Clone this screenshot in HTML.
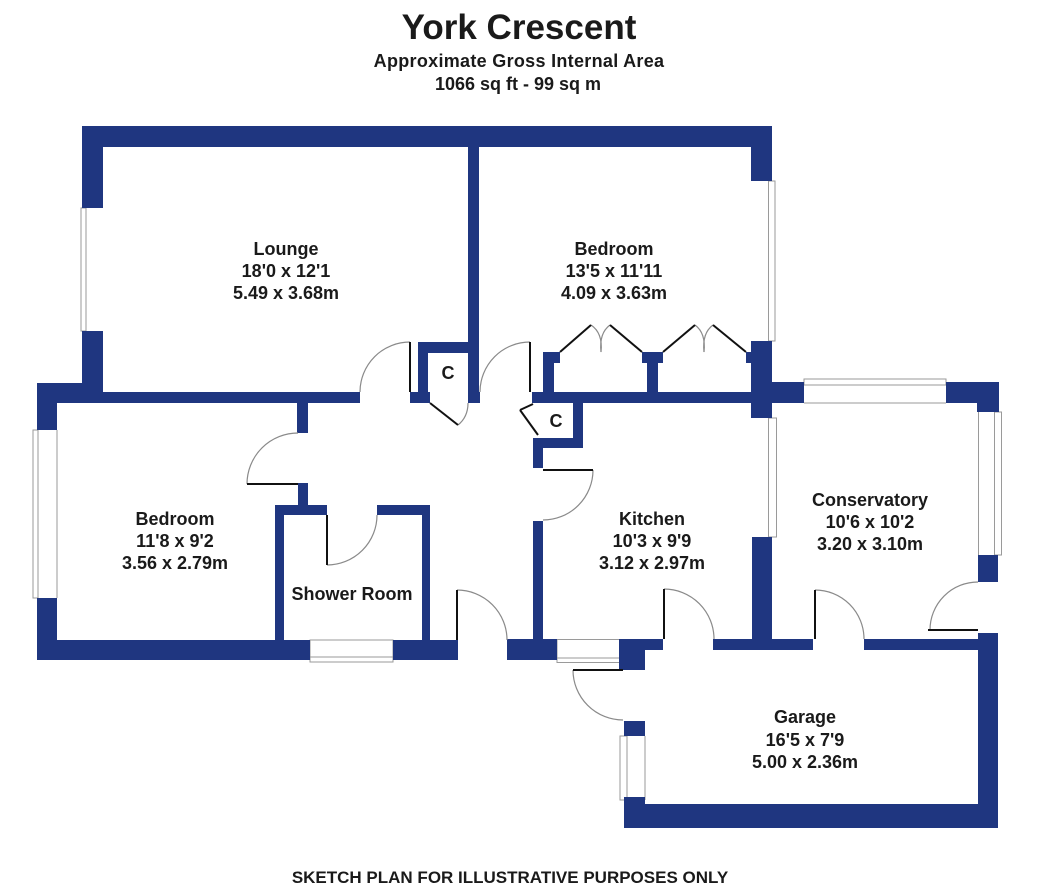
<!DOCTYPE html>
<html>
<head>
<meta charset="utf-8">
<style>
html,body{margin:0;padding:0;background:#fff;}
body{width:1057px;height:892px;overflow:hidden;}
svg{display:block;}
text{font-family:"Liberation Sans",Arial,sans-serif;font-weight:bold;fill:#1a1a1a;}
</style>
</head>
<body>
<svg width="1057" height="892" viewBox="0 0 1057 892" xmlns="http://www.w3.org/2000/svg">
<rect x="0" y="0" width="1057" height="892" fill="#fff"/>

<!-- Title -->
<text x="519" y="39" font-size="35" text-anchor="middle">York Crescent</text>
<text x="519" y="67" font-size="18" text-anchor="middle" letter-spacing="0.3">Approximate Gross Internal Area</text>
<text x="518" y="90" font-size="18" text-anchor="middle">1066 sq ft - 99 sq m</text>

<!-- Windows -->
<g fill="none" stroke="#9a9a9a" stroke-width="1">
  <rect x="81" y="208" width="5" height="123"/>
  <rect x="768.5" y="181" width="6.5" height="160"/>
  <rect x="768.5" y="418" width="8" height="119"/>
  <rect x="804" y="379" width="142" height="6"/>
  <line x1="804" y1="403" x2="946" y2="403"/>
  <line x1="978.5" y1="412" x2="978.5" y2="555"/>
  <rect x="994.5" y="412" width="7" height="143"/>
  <rect x="33" y="430" width="5" height="168"/>
  <line x1="57" y1="430" x2="57" y2="598"/>
  <rect x="310" y="640" width="83" height="22"/>
  <line x1="310" y1="657" x2="393" y2="657"/>
  <rect x="557" y="639.5" width="63" height="23"/>
  <line x1="557" y1="658" x2="620" y2="658"/>
  <rect x="620" y="736" width="7" height="64"/>
  <line x1="645" y1="736" x2="645" y2="800"/>
</g>

<!-- Walls -->
<g fill="#1f3680">
  <rect x="82" y="126" width="690" height="21"/>
  <rect x="751" y="126" width="21" height="55"/>
  <rect x="82" y="126" width="21" height="82"/>
  <rect x="82" y="331" width="21" height="72"/>
  <rect x="37" y="383" width="66" height="20"/>
  <rect x="37" y="392" width="323" height="11"/>
  <rect x="297" y="403" width="11" height="30"/>
  <rect x="37" y="383" width="20" height="47"/>
  <rect x="37" y="598" width="20" height="62"/>
  <rect x="37" y="640" width="273" height="20"/>
  <rect x="393" y="640" width="65" height="20"/>
  <rect x="507" y="639" width="50" height="21"/>
  <rect x="619" y="639" width="44" height="11"/>
  <rect x="619" y="650" width="26" height="20"/>
  <rect x="713" y="639" width="100" height="11"/>
  <rect x="864" y="639" width="134" height="11"/>
  <rect x="978" y="633" width="20" height="195"/>
  <rect x="624" y="804" width="374" height="24"/>
  <rect x="624" y="797" width="21" height="31"/>
  <rect x="624" y="721" width="21" height="15"/>
  <rect x="978" y="555" width="20" height="27"/>
  <rect x="977" y="382" width="22" height="30"/>
  <rect x="946" y="382" width="53" height="21"/>
  <rect x="772" y="382" width="32" height="21"/>
  <rect x="751" y="341" width="21" height="77"/>
  <rect x="746" y="352" width="6" height="11"/>
  <rect x="752" y="537" width="20" height="113"/>
  <rect x="532" y="392" width="240" height="11"/>
  <rect x="543" y="352" width="11" height="40"/>
  <rect x="543" y="352" width="17" height="11"/>
  <rect x="647" y="352" width="11" height="40"/>
  <rect x="642" y="352" width="21" height="11"/>
  <rect x="468" y="126" width="11" height="277"/>
  <rect x="468" y="392" width="12" height="11"/>
  <rect x="418" y="342" width="10" height="50"/>
  <rect x="418" y="342" width="61" height="11"/>
  <rect x="410" y="392" width="20" height="11"/>
  <rect x="573" y="403" width="10" height="45"/>
  <rect x="533" y="438" width="50" height="10"/>
  <rect x="533" y="438" width="10" height="30"/>
  <rect x="533" y="521" width="10" height="118"/>
  <rect x="275" y="505" width="9" height="135"/>
  <rect x="275" y="505" width="52" height="10"/>
  <rect x="298" y="483" width="10" height="22"/>
  <rect x="377" y="505" width="53" height="10"/>
  <rect x="422" y="505" width="8" height="135"/>
</g>

<!-- Door swing arcs -->
<g fill="none" stroke="#8a8a8a" stroke-width="1.2">
  <path d="M410 342 A50 50 0 0 0 360 392"/>
  <path d="M530 342 A50 50 0 0 0 480 392"/>
  <path d="M247 484 A51 51 0 0 1 298 433"/>
  <path d="M327 565 A50 50 0 0 0 377 515"/>
  <path d="M593 470 A50 50 0 0 1 543 520"/>
  <path d="M457 590 A50 50 0 0 1 507 640"/>
  <path d="M664 589 A50 50 0 0 1 714 639"/>
  <path d="M815 590 A49 49 0 0 1 864 639"/>
  <path d="M978 582 A48 48 0 0 0 930 630"/>
  <path d="M573 670 A50 50 0 0 0 623 720"/>
  <path d="M458 425 Q468 417 468 403"/>
  <path d="M591 325 Q603 333 601 352"/>
  <path d="M610 325 Q599 333 601 352"/>
  <path d="M695 325 Q706 333 704 352"/>
  <path d="M713 325 Q702 333 704 352"/>
</g>

<!-- Door leaves -->
<g fill="none" stroke="#111" stroke-width="2">
  <line x1="410" y1="342" x2="410" y2="392"/>
  <line x1="530" y1="342" x2="530" y2="392"/>
  <line x1="247" y1="484" x2="298" y2="484"/>
  <line x1="327" y1="515" x2="327" y2="565"/>
  <line x1="543" y1="470" x2="593" y2="470"/>
  <line x1="457" y1="590" x2="457" y2="640"/>
  <line x1="664" y1="589" x2="664" y2="639"/>
  <line x1="815" y1="590" x2="815" y2="639"/>
  <line x1="928" y1="630" x2="978" y2="630"/>
  <line x1="573" y1="670" x2="623" y2="670"/>
  <line x1="430" y1="403" x2="458" y2="425"/>
  <line x1="520" y1="410" x2="538" y2="435"/>
  <line x1="520" y1="410" x2="533" y2="404"/>
  <line x1="560" y1="352" x2="591" y2="325"/>
  <line x1="610" y1="325" x2="642" y2="352"/>
  <line x1="663" y1="352" x2="695" y2="325"/>
  <line x1="713" y1="325" x2="746" y2="352"/>
</g>

<!-- Room labels -->
<g font-size="18" text-anchor="middle">
  <text x="286" y="255">Lounge</text>
  <text x="286" y="277">18'0 x 12'1</text>
  <text x="286" y="299">5.49 x 3.68m</text>

  <text x="614" y="255">Bedroom</text>
  <text x="614" y="277">13'5 x 11'11</text>
  <text x="614" y="299">4.09 x 3.63m</text>

  <text x="175" y="525">Bedroom</text>
  <text x="175" y="547">11'8 x 9'2</text>
  <text x="175" y="569">3.56 x 2.79m</text>

  <text x="352" y="600">Shower Room</text>

  <text x="652" y="525">Kitchen</text>
  <text x="652" y="547">10'3 x 9'9</text>
  <text x="652" y="569">3.12 x 2.97m</text>

  <text x="870" y="506">Conservatory</text>
  <text x="870" y="528">10'6 x 10'2</text>
  <text x="870" y="550">3.20 x 3.10m</text>

  <text x="805" y="723">Garage</text>
  <text x="805" y="746">16'5 x 7'9</text>
  <text x="805" y="768">5.00 x 2.36m</text>

  <text x="448" y="379">C</text>
  <text x="556" y="427">C</text>
</g>

<!-- Footer -->
<text x="510" y="883" font-size="17" text-anchor="middle">SKETCH PLAN FOR ILLUSTRATIVE PURPOSES ONLY</text>
</svg>
</body>
</html>
